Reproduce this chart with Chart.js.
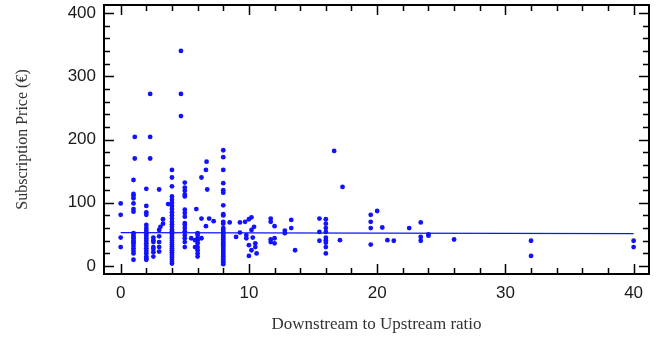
<!DOCTYPE html>
<html><head><meta charset="utf-8">
<script src="https://cdn.jsdelivr.net/npm/chart.js@4.4.0/dist/chart.umd.min.js"></script>
<style>html,body{margin:0;padding:0;background:#fff;}canvas{display:block;}</style>
</head><body>
<canvas id="c" width="671" height="343"></canvas>
<script>
// Downstream/Upstream ratio of each offer
const ratios = [
  0,0,0,0,
  1,1,1,1,1,1,1,1,1,1,1,1,1,1,1,1,1,1,1,
  1.1,1.1,
  2,2,2,2,2,2,2,2,2,2,2,2,2,2,2,2,2,2,2,
  2.3,2.3,2.3,
  2.55,2.55,2.55,2.55,2.55,2.55,2.55,
  3,3,3,3,3,3, 3.1, 3.3,3.3, 3.7,
  4,4,4,4,4,4,4,4,4,4,4,4,4,4,4,4,4,4,4,4,4,4,4,4,4,4,4,4,4,4,4,4,4,
  4.7,4.7,4.7,
  5,5,5,5,5,5,5,5,5,5,5,5,5,5,5,5,
  5.5, 5.8,5.8,
  6,6,6,6,6,6,6,6,6,
  5.9, 6.3,6.3,6.3, 6.65,6.65, 6.7, 6.75, 6.9, 7.25,
  8,8,8,8,8,8,8,8,8,8,8,8,8,8,8,8,8,8,8,8,8,8,8,8,8,8,8,8,8,8,8,
  8.5, 9, 9.3,9.3, 9.7, 9.8,9.8, 10,10,10, 10.2,10.2,10.2, 10.3, 10.5,10.5, 10.6, 10.4,
  11.7,11.7,11.7,11.7, 12,12,12, 12.8,12.8, 13.3,13.3, 13.6,
  15.5,15.5,15.5,
  16,16,16,16,16,16,16,16,16,
  16.65, 17.3, 17.1,
  19.5,19.5,19.5,19.5, 20, 20.4, 20.8, 21.3, 22.5,
  23.4,23.4,23.4, 24,24, 26, 32,32, 40,40
];
// Monthly subscription price (€) of each offer
const prices = [
  99,81,45,30,
  136,114,111,107,99,90,86,52,49,46,44,40,38,36,32,28,24,20,10,
  204,170,
  122,95,85,81,65,60,56,52,48,44,40,36,32,28,24,20,15,12,10,
  272,204,170,
  45,41,38,30,27,22,15,
  121,57,47,38,30,23, 62, 74,67, 98,
  152,140,126,110,105,100,95,90,85,80,75,70,66,62,58,55,52,49,46,43,40,37,34,31,28,25,22,19,16,13,10,7,4,
  340,272,237,
  132,124,119,113,110,89,84,78,68,65,60,55,49,44,38,30,
  44, 41,30,
  52,49,44,40,36,30,25,20,15,
  90, 140,75,44, 152,63, 165, 121, 75, 71,
  183,172,152,131,120,116,96,82,80,70,67,60,57,54,51,48,45,42,39,36,33,30,27,24,21,18,15,12,9,6,3,
  69, 46, 69,53, 70, 49,44, 74,33,16, 77,57,25, 45, 36,30, 20, 62,
  75,70,42,38, 63,44,36, 56,52, 73,60, 25,
  75,54,40,
  74,67,60,54,45,41,37,30,20,
  182, 125, 41,
  81,70,60,34, 87, 61, 41, 40, 60,
  69,46,40, 50,48, 42, 40,16, 40,30
];
// Fitted trend line end points
const fitRatios = [0, 40];
const fitPrices = [52.8, 51.2];
const xTickLabels = [0, 10, 20, 30, 40];
const yTickLabels = [0, 100, 200, 300, 400];

const points = ratios.map((r, i) => ({x: r, y: prices[i]}));
const fitLine = fitRatios.map((r, i) => ({x: r, y: fitPrices[i]}));
const BLUE = 'rgb(18,18,255)';

const frameTicks = {
  id: 'frameTicks',
  afterDatasetsDraw(chart) {
    const {ctx, chartArea: a, scales: {x, y}} = chart;
    ctx.save();
    ctx.strokeStyle = '#000';
    ctx.lineWidth = 1.5;
    ctx.beginPath();
    const xStep = (xTickLabels[1] - xTickLabels[0]) / 5;
    const xMajor = xTickLabels[1] - xTickLabels[0];
    for (let v = xTickLabels[0]; v <= xTickLabels[xTickLabels.length - 1] + 1e-9; v += xStep) {
      const px = Math.round(x.getPixelForValue(v)) + 0.5;
      const len = Math.abs(v % xMajor) < 1e-6 ? 10 : 6;
      ctx.moveTo(px, a.bottom); ctx.lineTo(px, a.bottom - len);
      ctx.moveTo(px, a.top); ctx.lineTo(px, a.top + len);
    }
    const yStep = (yTickLabels[1] - yTickLabels[0]) / 5;
    const yMajor = yTickLabels[1] - yTickLabels[0];
    for (let v = yTickLabels[0]; v <= yTickLabels[yTickLabels.length - 1] + 1e-9; v += yStep) {
      const py = Math.round(y.getPixelForValue(v)) + 0.5;
      const len = Math.abs(v % yMajor) < 1e-6 ? 10 : 6;
      ctx.moveTo(a.left, py); ctx.lineTo(a.left + len, py);
      ctx.moveTo(a.right, py); ctx.lineTo(a.right - len, py);
    }
    ctx.stroke();
    ctx.lineWidth = 2;
    ctx.strokeRect(a.left, a.top, a.right - a.left, a.bottom - a.top);
    ctx.restore();
  }
};

new Chart(document.getElementById('c'), {
  type: 'scatter',
  data: {
    datasets: [
      {
        data: points,
        pointRadius: 2.4,
        pointHoverRadius: 2.4,
        pointBackgroundColor: BLUE,
        pointBorderWidth: 0,
        borderColor: BLUE
      },
      {
        type: 'line',
        data: fitLine,
        borderColor: BLUE,
        borderWidth: 1.3,
        pointRadius: 0,
        fill: false
      }
    ]
  },
  options: {
    responsive: false,
    animation: false,
    devicePixelRatio: 1,
    layout: {padding: {top: 5, right: 22, left: 0, bottom: 0}},
    plugins: {legend: {display: false}, tooltip: {enabled: false}},
    scales: {
      x: {
        type: 'linear',
        min: -1.3,
        max: 41.2,
        grid: {display: false, drawTicks: false},
        border: {display: false},
        afterBuildTicks: s => { s.ticks = xTickLabels.map(v => ({value: v})); },
        afterFit: s => { s.height = 69; s.paddingLeft = 0; s.paddingRight = 0; },
        ticks: {
          padding: 9,
          color: '#1a1a1a',
          font: {family: '"Liberation Sans", Arial, sans-serif', size: 17},
          maxRotation: 0
        },
        title: {
          display: true,
          text: 'Downstream to Upstream ratio',
          color: '#333',
          font: {family: '"Liberation Serif", "Times New Roman", serif', size: 17},
          padding: {top: 0, bottom: 8}
        }
      },
      y: {
        type: 'linear',
        min: -12.5,
        max: 412.5,
        grid: {display: false, drawTicks: false},
        border: {display: false},
        afterBuildTicks: s => { s.ticks = yTickLabels.map(v => ({value: v})); },
        afterFit: s => { s.width = 104; s.paddingTop = 0; s.paddingBottom = 0; },
        ticks: {
          padding: 8,
          color: '#1a1a1a',
          font: {family: '"Liberation Sans", Arial, sans-serif', size: 17}
        },
        title: {
          display: true,
          text: 'Subscription Price (€)',
          color: '#333',
          font: {family: '"Liberation Serif", "Times New Roman", serif', size: 16},
          padding: {top: 13, bottom: 0}
        }
      }
    }
  },
  plugins: [frameTicks]
});
</script>
</body></html>
